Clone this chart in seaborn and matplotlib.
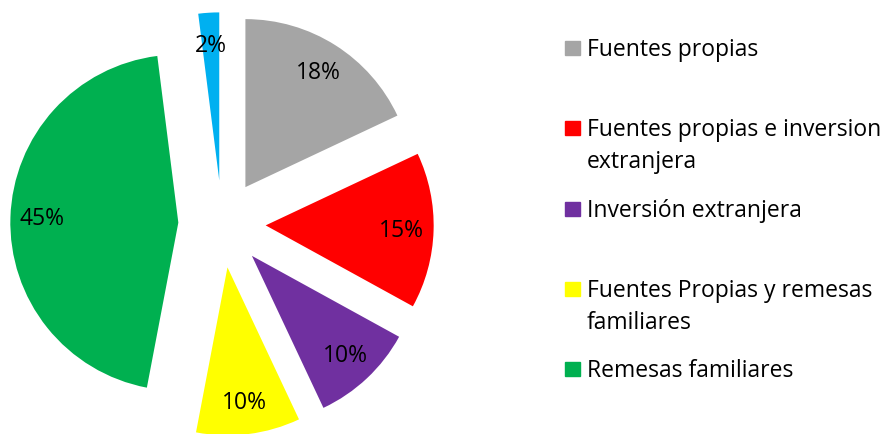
import matplotlib
matplotlib.use("Agg")
import matplotlib.pyplot as plt
import seaborn as sns
from matplotlib.patches import Rectangle

# Datos del gráfico
categorias = ["Fuentes propias",
              "Fuentes propias e inversion\nextranjera",
              "Inversión extranjera",
              "Fuentes Propias y remesas\nfamiliares",
              "Remesas familiares",
              "Otros"]
porcentajes = [18, 15, 10, 10, 45, 2]
colores = ["#A5A5A5", "#FF0000", "#7030A0", "#FFFF00", "#00B050", "#00B0F0"]

sns.set_style("white")
plt.rcParams["font.family"] = ["Open Sans", "DejaVu Sans"]
plt.rcParams["text.color"] = "black"

fig = plt.figure(figsize=(8.86, 4.35), dpi=100)

# ejes cuadrados en pixeles, centro del pastel en (222, 210) px
escala = 168
lim = 1.3
lado = 2 * lim * escala
ax = fig.add_axes([(222 - lado / 2) / 886, (210 - lado / 2) / 435, lado / 886, lado / 435])

wedges, textos, pcts = ax.pie(porcentajes, colors=colores, startangle=90, counterclock=False,
                              explode=[0.26] * len(porcentajes), autopct="%1.0f%%", pctdistance=0.81,
                              wedgeprops=dict(linewidth=0), textprops=dict(fontsize=16.5, color="black"))
ax.set_xlim(-lim, lim)
ax.set_ylim(-lim, lim)
ax.set_aspect("equal")
ax.axis("off")

# Leyenda manual (la ultima entrada queda fuera del recorte original)
for i, (cat, col) in enumerate(zip(categorias[:5], colores[:5])):
    base = 56 + i * 80.3  # linea base en px desde arriba
    fig.patches.append(Rectangle((565 / 886, 1 - base / 435), 15 / 886, 14 / 435,
                                 transform=fig.transFigure, color=col, figure=fig))
    for j, linea in enumerate(cat.split("\n")):
        fig.text(587 / 886, 1 - (base + j * 32) / 435, linea, fontsize=16.5,
                 va="baseline", ha="left", color="black")

plt.savefig("out.png", dpi=100)
